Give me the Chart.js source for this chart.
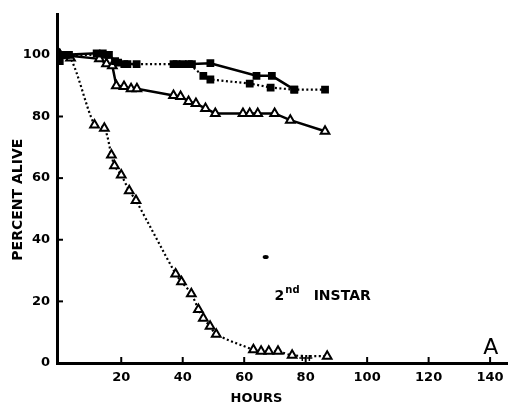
<!DOCTYPE html>
<html>
<head>
<meta charset="utf-8">
<script src="https://cdn.jsdelivr.net/npm/chart.js@4/dist/chart.umd.min.js"></script>
<style>
  html, body { margin: 0; padding: 0; background: #fff; }
</style>
</head>
<body>
<canvas id="myChart" width="514" height="405"></canvas>
<script>
// data (hours, percent alive)
const xTicks = [20, 40, 60, 80, 100, 120, 140];
const yTicks = [0, 20, 40, 60, 80, 100];

// filled squares, solid line (null = break, the dotted series shows there)
const sqSolidHours = [0, 2, 12, 14, 16, 18, 21, 25, 30, 37, 40, 43, 49, 64, 69, 76.3];
const sqSolidPct   = [100, 100, 100.5, 100.5, 100, 98, 97, 97, null, 97, 97, 97, 97.3, 93.2, 93.2, 88.7];

// filled squares, dotted line
const sqDotHours = [0, 3, 15, 19, 22, 38, 42, 46.7, 49, 61.8, 68.6, 76.3, 86.3];
const sqDotPct   = [98, 100, 100, 97.5, 97, 97, 97, 93.2, 92, 90.7, 89.4, 88.7, 88.7];

// open triangles, solid line
const triSolidHours = [0, 12.9, 15.2, 17.1, 18.4, 20.9, 23.2, 25.1, 37, 39.3, 41.9, 44.3, 47.4, 50.6, 59.6, 61.8, 64.4, 69.9, 75, 86.3];
const triSolidPct   = [100, 98.7, 97.1, 96.5, 90, 89.7, 89, 89, 86.8, 86.5, 84.9, 84.2, 82.6, 81, 81, 81, 81, 81, 78.8, 75.2];

// open triangles, dotted line
const triDotHours = [0, 3.5, 11.3, 14.5, 16.8, 17.8, 20, 22.6, 24.8, 37.7, 39.6, 42.8, 45.1, 46.7, 48.9, 50.9, 63, 65.5, 68, 71, 75.6, 87];
const triDotPct   = [100, 99, 77.2, 76.2, 67.5, 64, 61, 55.9, 52.7, 28.9, 26.4, 22.5, 17.4, 14.5, 11.9, 9.3, 4.3, 3.8, 3.8, 3.8, 2.5, 2.2];

// small crosses near the end of the dotted triangles
const crossHours = [78.9, 81.2];
const crossPct   = [1.6, 1.6];

function pts(xs, ys) {
  return xs.map((x, i) => ({ x: x, y: ys[i] }));
}

const FONT = "'DejaVu Sans', sans-serif";

// tick marks pointing inward + the texts on the plot
const extras = {
  id: "extras",
  afterDraw(chart) {
    const c = chart.ctx;
    const xs = chart.scales.x;
    const ys = chart.scales.y;
    const area = chart.chartArea;
    c.save();
    c.strokeStyle = "#000";
    c.lineWidth = 2;
    xTicks.forEach(v => {
      const px = xs.getPixelForValue(v);
      c.beginPath();
      c.moveTo(px, area.bottom);
      c.lineTo(px, area.bottom - 6);
      c.stroke();
    });
    yTicks.forEach(v => {
      if (v === 0) return;
      const py = ys.getPixelForValue(v);
      c.beginPath();
      c.moveTo(area.left, py);
      c.lineTo(area.left + 6, py);
      c.stroke();
    });

    c.fillStyle = "#000";
    // axis titles
    c.font = "bold 14px " + FONT;
    c.textAlign = "center";
    c.textBaseline = "middle";
    c.save();
    c.translate(18, ys.getPixelForValue(53));
    c.rotate(-Math.PI / 2);
    c.fillText("PERCENT ALIVE", 0, 0);
    c.restore();
    c.font = "bold 13px " + FONT;
    c.textBaseline = "alphabetic";
    c.fillText("HOURS", xs.getPixelForValue(64), 402);

    // 2nd INSTAR
    c.textAlign = "left";
    const bx = xs.getPixelForValue(69.9);
    const by = ys.getPixelForValue(20.6);
    c.font = "bold 14px " + FONT;
    c.fillText("2", bx, by);
    const w2 = c.measureText("2").width;
    c.font = "bold 10px " + FONT;
    c.fillText("nd", bx + w2 + 1, by - 7);
    c.font = "bold 14px " + FONT;
    c.fillText("INSTAR", xs.getPixelForValue(82.6), by);

    // small blot
    c.beginPath();
    c.ellipse(xs.getPixelForValue(67), ys.getPixelForValue(34.4), 3, 2, 0, 0, Math.PI * 2);
    c.fill();

    // panel letter
    c.font = "22px " + FONT;
    c.fillText("A", xs.getPixelForValue(137.8), ys.getPixelForValue(2.9));
    c.restore();
  }
};

const solidLine = { showLine: true, borderColor: "#000", borderWidth: 2.5, tension: 0 };
const dotLine = { showLine: true, borderColor: "#000", borderWidth: 2.2, borderDash: [2, 2.5] };

const ctx = document.getElementById("myChart").getContext("2d");
const chart = new Chart(ctx, {
  type: "scatter",
  data: {
    datasets: [
      Object.assign({
        label: "squares solid",
        data: pts(sqSolidHours, sqSolidPct),
        pointStyle: "rect", pointRadius: 5.5,
        pointBackgroundColor: "#000", pointBorderColor: "#000", pointBorderWidth: 0
      }, solidLine),
      Object.assign({
        label: "squares dotted",
        data: pts(sqDotHours, sqDotPct),
        pointStyle: "rect", pointRadius: 5.5,
        pointBackgroundColor: "#000", pointBorderColor: "#000", pointBorderWidth: 0
      }, dotLine),
      Object.assign({
        label: "triangles solid",
        data: pts(triSolidHours, triSolidPct),
        pointStyle: "triangle", pointRadius: 5,
        pointBackgroundColor: "#fff", pointBorderColor: "#000", pointBorderWidth: 2
      }, solidLine),
      Object.assign({
        label: "triangles dotted",
        data: pts(triDotHours, triDotPct),
        pointStyle: "triangle", pointRadius: 5,
        pointBackgroundColor: "#fff", pointBorderColor: "#000", pointBorderWidth: 2
      }, dotLine, { tension: 0.3 }),
      {
        label: "crosses",
        data: pts(crossHours, crossPct),
        pointStyle: "cross", pointRadius: 3,
        pointBorderColor: "#000", pointBorderWidth: 1.5, showLine: false
      }
    ]
  },
  options: {
    responsive: false,
    animation: false,
    layout: { padding: { top: 10, right: 2, left: 0, bottom: 0 } },
    plugins: { legend: { display: false }, tooltip: { enabled: false } },
    scales: {
      x: {
        type: "linear",
        min: -0.9,
        max: 145.5,
        afterBuildTicks: s => { s.ticks = xTicks.map(v => ({ value: v })); },
        afterFit: s => { s.height = 42; },
        grid: { display: false, drawTicks: false },
        border: { display: true, color: "#000", width: 3 },
        ticks: { color: "#000", font: { family: FONT, size: 13, weight: "bold" }, padding: 7, maxRotation: 0 }
      },
      y: {
        min: 0,
        max: 113,
        afterBuildTicks: s => { s.ticks = yTicks.map(v => ({ value: v })); },
        afterFit: s => { s.width = 57; },
        grid: { display: false, drawTicks: false },
        border: { display: true, color: "#000", width: 3 },
        ticks: { color: "#000", font: { family: FONT, size: 13, weight: "bold" }, padding: 7 }
      }
    }
  },
  plugins: [extras]
});
</script>
</body>
</html>
